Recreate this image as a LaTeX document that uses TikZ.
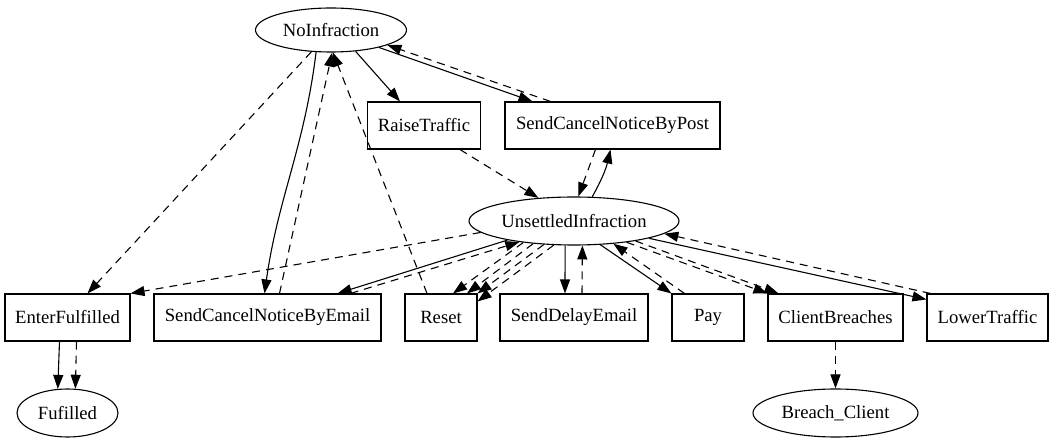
\documentclass[tikz,border=0pt]{standalone}
\usepackage{fontspec}
\setmainfont{Liberation Serif}
\usetikzlibrary{arrows.meta,shapes.geometric}

\begin{document}
\begin{tikzpicture}[x=1pt, y=1pt, line width=1.1pt,
    >={Triangle[length=14pt,width=10pt]},
    every node/.style={font=\fontsize{18.67}{22}\selectfont, inner sep=0pt},
    state/.style={ellipse, draw, minimum height=46pt},
    action/.style={rectangle, draw, minimum height=47pt},
    dashedge/.style={dash pattern=on 8pt off 6pt}]

    \useasboundingbox (0, 0) rectangle (1053, -443);

    % Node definitions
    \node (NoInfraction) at (331, -30) [state, minimum width=151pt, minimum height=44pt] {NoInfraction};
    \node (RaiseTraffic) at (424, -125.5) [action, minimum width=113pt] {RaiseTraffic};
    \node (SendCancelNoticeByPost) at (612.5, -125.5) [action, minimum width=215pt] {SendCancelNoticeByPost};
    \node (UnsettledInfraction) at (574, -221) [state, minimum width=210pt, minimum height=48pt] {UnsettledInfraction};

    \node (EnterFulfilled) at (67.5, -317.5) [action, minimum width=125pt] {EnterFulfilled};
    \node (SendCancelNoticeByEmail) at (267.5, -317.5) [action, minimum width=227pt] {SendCancelNoticeByEmail};
    \node (Reset) at (441, -317.5) [action, minimum width=72pt] {Reset};
    \node (SendDelayEmail) at (574, -317.5) [action, minimum width=148pt] {SendDelayEmail};
    \node (Pay) at (708, -317.5) [action, minimum width=72pt] {Pay};
    \node (ClientBreaches) at (835.5, -317.5) [action, minimum width=135pt] {ClientBreaches};
    \node (LowerTraffic) at (987.5, -317.5) [action, minimum width=121pt] {LowerTraffic};

    \node (Fufilled) at (67.5, -413) [state, minimum width=101pt, minimum height=48pt] {Fufilled};
    \node (BreachClient) at (835.5, -413) [state, minimum width=165pt, minimum height=48pt] {Breach\_Client};

    % Edges out of NoInfraction
    \draw[->] (NoInfraction.-41) -- ([xshift=-24pt]RaiseTraffic.north);
    \draw[->] (NoInfraction.-20) -- ([xshift=-80pt]SendCancelNoticeByPost.north);
    \draw[->, dashedge] ([xshift=-62pt]SendCancelNoticeByPost.north) -- (NoInfraction.-15);
    \draw[->, dashedge] (NoInfraction.-132) -- ([xshift=20pt]EnterFulfilled.north);
    \draw[->] (NoInfraction.-124) to[out=-97, in=82] ([xshift=-3pt]SendCancelNoticeByEmail.north);
    \draw[->, dashedge] ([xshift=12pt]SendCancelNoticeByEmail.north) -- (NoInfraction.-87);
    \draw[->, dashedge] ([xshift=-14pt]Reset.north) -- (NoInfraction.-85);

    % Edges into and out of UnsettledInfraction
    \draw[->, dashedge] ([xshift=36pt]RaiseTraffic.south) -- (UnsettledInfraction.147);
    \draw[->, dashedge] ([xshift=-17pt]SendCancelNoticeByPost.south) -- (UnsettledInfraction.80);
    \draw[->] (UnsettledInfraction.53) to[bend right=8] ([xshift=-2pt]SendCancelNoticeByPost.south);
    \draw[->, dashedge] (UnsettledInfraction.-173) -- (EnterFulfilled.north east);
    \draw[->] (UnsettledInfraction.-164) -- ([xshift=-44pt]SendCancelNoticeByEmail.north east);
    \draw[->, dashedge] ([xshift=-31pt]SendCancelNoticeByEmail.north east) -- (UnsettledInfraction.-159);
    \draw[->, dashedge] (UnsettledInfraction.-157) -- ([xshift=12pt]Reset.north);
    \draw[->, dashedge] (UnsettledInfraction.-151) -- ([xshift=26pt]Reset.north);
    \draw[->, dashedge] (UnsettledInfraction.-142) -- (Reset.north east);
    \draw[->, dashedge] (UnsettledInfraction.-130) -- ([yshift=-8pt]Reset.north east);
    \draw[->] (UnsettledInfraction.-110) -- ([xshift=-9pt]SendDelayEmail.north);
    \draw[->, dashedge] ([xshift=8pt]SendDelayEmail.north) -- (UnsettledInfraction.-71);
    \draw[->] (UnsettledInfraction.-42) -- (Pay.north west);
    \draw[->, dashedge] ([xshift=13pt]Pay.north west) -- (UnsettledInfraction.-30);
    \draw[->, dashedge] (UnsettledInfraction.-22) -- (ClientBreaches.north west);
    \draw[->, dashedge] (UnsettledInfraction.-18) -- ([xshift=11pt]ClientBreaches.north west);
    \draw[->] (UnsettledInfraction.-13) -- ([yshift=-6pt]LowerTraffic.north west);
    \draw[->, dashedge] ([xshift=4pt]LowerTraffic.north west) -- (UnsettledInfraction.-8);

    % Final states
    \draw[->] ([xshift=-8pt]EnterFulfilled.south) -- (Fufilled.112);
    \draw[->, dashedge] ([xshift=9pt]EnterFulfilled.south) -- (Fufilled.72);
    \draw[->, dashedge] (ClientBreaches.south) -- (BreachClient.north);
\end{tikzpicture}
\end{document}
